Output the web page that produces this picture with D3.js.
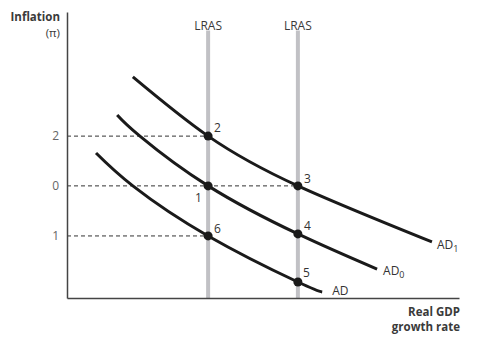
<!DOCTYPE html>
<html>
<head>
<meta charset="utf-8">
<script src="https://cdn.jsdelivr.net/npm/d3@7"></script>
<style>
  body { margin: 0; background: #fff; }
  svg { display: block; font-family: "Open Sans", "Noto Sans", sans-serif; }
</style>
</head>
<body>
<svg class="mysvg"></svg>
<script>
// Curves (x = output growth, y = inflation), abstract units 0..10
const adHigh = [[1.68, 7.73], [3.6, 5.66], [5.89, 3.92], [9.31, 1.96]];
const adMid = [[1.28, 6.4], [1.86, 5.66], [3.6, 3.92], [5.89, 2.24], [7.91, 1.01]];
const adLow = [[0.74, 5.07], [1.68, 3.92], [3.6, 2.17], [5.89, 0.56], [6.51, 0.21]];

// Long-run aggregate supply positions
const lrasX = [3.6, 5.89];

// Inflation levels marked on the axis
const levelValues = [5.66, 3.92, 2.17];
const levelLabels = ["2", "0", "1"];

// Numbered equilibrium points
const points = [
  { x: 3.6, y: 3.92, label: "1", dx: -13, dy: 16 },
  { x: 3.6, y: 5.66, label: "2", dx: 6, dy: -4 },
  { x: 5.89, y: 3.92, label: "3", dx: 6, dy: -3 },
  { x: 5.89, y: 2.24, label: "4", dx: 6, dy: -4 },
  { x: 5.89, y: 0.56, label: "5", dx: 5, dy: -5 },
  { x: 3.6, y: 2.17, label: "6", dx: 6, dy: -3 },
];

const width = 494, height = 354;
const svg = d3.select(".mysvg").attr("width", width).attr("height", height);

const xScale = d3.scaleLinear().domain([0, 10]).range([67, 459]);
const yScale = d3.scaleLinear().domain([0, 10]).range([298, 12]);

// LRAS lines
svg.selectAll(".lras")
  .data(lrasX)
  .enter()
  .append("line")
  .attr("x1", d => xScale(d))
  .attr("x2", d => xScale(d))
  .attr("y1", yScale(9.35))
  .attr("y2", yScale(0))
  .attr("stroke", "#c1c1c5")
  .attr("stroke-width", 4);

svg.selectAll(".lras-label")
  .data(lrasX)
  .enter()
  .append("text")
  .attr("x", d => xScale(d))
  .attr("y", 30)
  .attr("text-anchor", "middle")
  .attr("font-size", 12)
  .attr("fill", "#3a3a3a")
  .text("LRAS");

// dashed guides: from axis to the right-most point on that level
const guideEnds = [3.6, 5.89, 3.6];
svg.selectAll(".guide")
  .data(levelValues)
  .enter()
  .append("line")
  .attr("x1", xScale(0))
  .attr("x2", (d, i) => xScale(guideEnds[i]))
  .attr("y1", d => yScale(d))
  .attr("y2", d => yScale(d))
  .attr("stroke", "#333")
  .attr("stroke-width", 1)
  .attr("stroke-dasharray", "4,3");

// axes
const yAxis = svg.append("g")
  .attr("transform", `translate(${xScale(0)},0)`)
  .call(d3.axisLeft(yScale)
    .tickValues(levelValues)
    .tickFormat((d, i) => levelLabels[i])
    .tickSize(0)
    .tickPadding(8));
yAxis.select(".domain").attr("stroke", "#444").attr("stroke-width", 1.5);
yAxis.selectAll("text")
  .attr("font-size", 12)
  .attr("fill", "#666")
  .attr("font-family", "Open Sans, sans-serif");

const xAxis = svg.append("g")
  .attr("transform", `translate(0,${yScale(0)})`)
  .call(d3.axisBottom(xScale).tickValues([]).tickSize(0));
xAxis.select(".domain").attr("stroke", "#444").attr("stroke-width", 1.5);

// AD curves
const line = d3.line()
  .x(d => xScale(d[0]))
  .y(d => yScale(d[1]))
  .curve(d3.curveNatural);

[adHigh, adMid, adLow].forEach(c => {
  svg.append("path")
    .datum(c)
    .attr("d", line)
    .attr("fill", "none")
    .attr("stroke", "#1a1a1a")
    .attr("stroke-width", 3);
});

// points
svg.selectAll(".pt")
  .data(points)
  .enter()
  .append("circle")
  .attr("cx", d => xScale(d.x))
  .attr("cy", d => yScale(d.y))
  .attr("r", 4.5)
  .attr("fill", "#1a1a1a");

svg.selectAll(".pt-label")
  .data(points)
  .enter()
  .append("text")
  .attr("x", d => xScale(d.x) + d.dx)
  .attr("y", d => yScale(d.y) + d.dy)
  .attr("font-size", 12)
  .attr("fill", "#333")
  .text(d => d.label);

// curve labels
const curveLabels = [
  { end: adHigh[adHigh.length - 1], main: "AD", sub: "1", dx: 5, dy: 7 },
  { end: adMid[adMid.length - 1], main: "AD", sub: "0", dx: 6, dy: 6 },
  { end: adLow[adLow.length - 1], main: "AD", sub: "", dx: 10, dy: 3 },
];
curveLabels.forEach(l => {
  const t = svg.append("text")
    .attr("x", xScale(l.end[0]) + l.dx)
    .attr("y", yScale(l.end[1]) + l.dy)
    .attr("font-size", 12)
    .attr("fill", "#333")
    .text(l.main);
  if (l.sub) {
    t.append("tspan")
      .attr("dy", 3)
      .attr("font-size", 9)
      .text(l.sub);
  }
});

// axis titles
svg.append("text")
  .attr("x", 60).attr("y", 21)
  .attr("text-anchor", "end")
  .attr("font-size", 11.5)
  .attr("font-weight", "bold")
  .attr("fill", "#3a3a3a")
  .text("Inflation");
svg.append("text")
  .attr("x", 60).attr("y", 37)
  .attr("text-anchor", "end")
  .attr("font-size", 11.5)
  .attr("fill", "#3a3a3a")
  .text("(π)");

["Real GDP", "growth rate"].forEach((s, i) => {
  svg.append("text")
    .attr("x", 460)
    .attr("y", 316 + i * 15)
    .attr("text-anchor", "end")
    .attr("font-size", 11.5)
    .attr("font-weight", "bold")
    .attr("fill", "#3a3a3a")
    .text(s);
});
</script>
</body>
</html>
